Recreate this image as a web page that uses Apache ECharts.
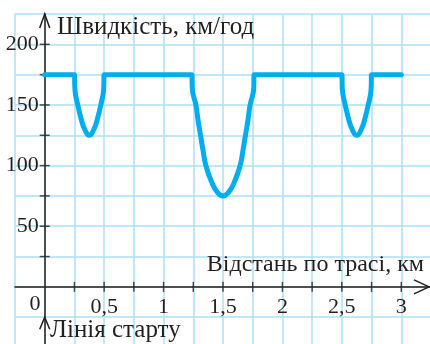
<!DOCTYPE html>
<html>
<head>
<meta charset="utf-8">
<script src="https://cdn.jsdelivr.net/npm/echarts@6/dist/echarts.min.js"></script>
<style>
  html, body { margin: 0; padding: 0; background: #fff; }
  #main { width: 430px; height: 344px; }
</style>
</head>
<body>
<div id="main"></div>
<script>
// distance along the track, km
const distance = [0,
  0.25, 0.254, 0.278, 0.308, 0.336, 0.375, 0.414, 0.442, 0.472, 0.496, 0.5,
  1.238, 1.242, 1.272, 1.29, 1.311, 1.332, 1.356, 1.406, 1.453, 1.5,
  1.547, 1.594, 1.644, 1.668, 1.689, 1.71, 1.728, 1.758, 1.762,
  2.5, 2.504, 2.528, 2.558, 2.586, 2.625, 2.664, 2.692, 2.722, 2.746, 2.75,
  3]
// speed, km/h
const speed = [175,
  175, 163, 150, 138, 130, 125, 130, 138, 150, 163, 175,
  175, 163, 150, 137.5, 125, 112.5, 100, 86, 78, 75,
  78, 86, 100, 112.5, 125, 137.5, 150, 163, 175,
  175, 163, 150, 138, 130, 125, 130, 138, 150, 163, 175,
  175]

const xTicks = [0.25, 0.5, 0.75, 1, 1.25, 1.5, 1.75, 2, 2.25, 2.5, 2.75, 3]
const yTicks = [25, 50, 75, 100, 125, 150, 175, 200]
const xLabels = { 0.5: '0,5', 1: '1', 1.5: '1,5', 2: '2', 2.5: '2,5', 3: '3' }
const yLabels = { 50: '50', 100: '100', 150: '150', 200: '200' }

const FONT = 'Liberation Serif'
const INK = '#231f20'
const GRID = '#ace0f5'

// grid box: x from -0.25 to 3.25 km, y from -50 to 225 km/h
const GRID_W = 416
const GRID_H = 333.5
const pxPerKm = GRID_W / 3.5
const pxPerUnit = GRID_H / 275

const chart = echarts.init(document.getElementById('main'))

chart.setOption({
  animation: false,
  grid: { left: 15, top: 14, width: GRID_W, height: GRID_H, outerBoundsMode: 'none', containLabel: false },
  xAxis: {
    type: 'value',
    min: -0.25,
    max: 3.25,
    interval: 0.25,
    offset: -50 * pxPerUnit,
    axisLine: { onZero: false, lineStyle: { color: INK, width: 1.5 } },
    axisTick: { show: false },
    splitLine: { lineStyle: { color: GRID, width: 1.5 } },
    axisLabel: {
      margin: 9,
      color: INK,
      fontFamily: FONT,
      fontSize: 22,
      formatter: v => xLabels[v] || ''
    }
  },
  yAxis: {
    type: 'value',
    min: -50,
    max: 225,
    interval: 25,
    offset: -0.25 * pxPerKm,
    axisLine: { onZero: false, lineStyle: { color: INK, width: 1.5 } },
    axisTick: { show: false },
    splitLine: { lineStyle: { color: GRID, width: 1.5 } },
    axisLabel: {
      margin: 6,
      color: INK,
      fontFamily: FONT,
      fontSize: 22,
      formatter: v => yLabels[v] || ''
    }
  },
  series: [
    {
      // ticks crossing the x axis
      type: 'scatter',
      data: xTicks.map(x => [x, 0]),
      symbol: 'rect',
      symbolSize: [1.5, 10],
      itemStyle: { color: INK },
      silent: true
    },
    {
      type: 'scatter',
      data: yTicks.map(y => [0, y]),
      symbol: 'rect',
      symbolSize: [10, 1.5],
      itemStyle: { color: INK },
      silent: true
    },
    {
      name: 'speed',
      type: 'line',
      data: distance.map((d, i) => [d, speed[i]]),
      smooth: 0.5,
      showSymbol: false,
      lineStyle: { color: '#00aeef', width: 5, cap: 'round', join: 'round' },
      z: 5
    }
  ]
})

// arrows and captions
const yTop = chart.convertToPixel({ gridIndex: 0 }, [0, 225])
const xEnd = chart.convertToPixel({ gridIndex: 0 }, [3.25, 0])
const start = chart.convertToPixel({ gridIndex: 0 }, [0, -25])
const arrowStyle = { stroke: INK, lineWidth: 1.5, fill: null }

chart.setOption({
  graphic: [
    {
      type: 'polyline',
      shape: { points: [[yTop[0] - 5, yTop[1] + 14], [yTop[0], yTop[1]], [yTop[0] + 5, yTop[1] + 14]] },
      style: arrowStyle
    },
    {
      type: 'polyline',
      shape: { points: [[xEnd[0] - 17, xEnd[1] - 7], [xEnd[0] - 2, xEnd[1]], [xEnd[0] - 17, xEnd[1] + 7]] },
      style: arrowStyle
    },
    {
      type: 'polyline',
      shape: { points: [[start[0] - 5, start[1] + 12], [start[0], start[1]], [start[0] + 5, start[1] + 12]] },
      style: arrowStyle
    },
    {
      type: 'text', x: 57, y: 27,
      style: { text: 'Швидкість, км/год', font: '25px "Liberation Serif"', fill: INK, verticalAlign: 'middle' }
    },
    {
      type: 'text', x: 424, y: 264.5,
      style: { text: 'Відстань по трасі, км', font: '24px "Liberation Serif"', fill: INK, align: 'right', verticalAlign: 'middle' }
    },
    {
      type: 'text', x: 50, y: 330,
      style: { text: 'Лінія старту', font: '25px "Liberation Serif"', fill: INK, verticalAlign: 'middle' }
    },
    {
      type: 'text', x: 35, y: 304,
      style: { text: '0', font: '22px "Liberation Serif"', fill: INK, align: 'center', verticalAlign: 'middle' }
    }
  ]
})
</script>
</body>
</html>
